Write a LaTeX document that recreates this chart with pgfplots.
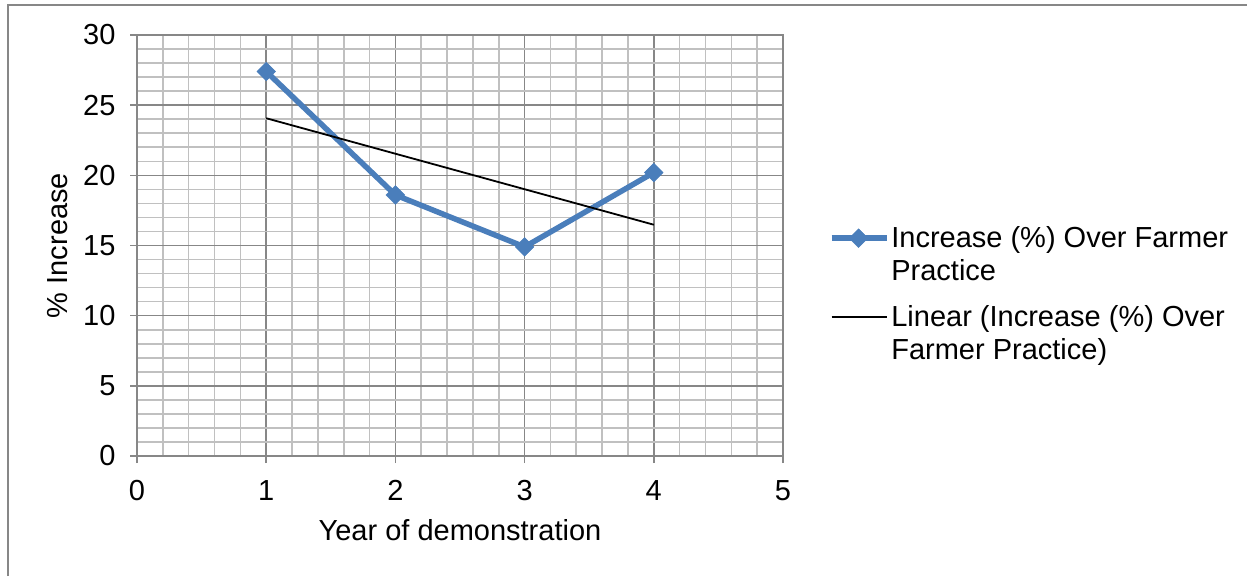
\documentclass[border=0pt]{standalone}
\usepackage{fontspec}
\setmainfont{Liberation Sans}
\usepackage{pgfplots}
\pgfplotsset{compat=1.18}

\definecolor{xlblue}{HTML}{4A7EBB}
\definecolor{majgrid}{HTML}{878787}
\definecolor{mingrid}{HTML}{C0C0C0}

\begin{document}
\begin{tikzpicture}
% page is 1255 x 576 px, 1 px = 1 pt
\path[use as bounding box] (0pt,0pt) rectangle (1255pt,576pt);
\draw[majgrid, line width=1.5pt] (8pt,0pt) -- (8pt,571pt) -- (1247pt,571pt);

\begin{axis}[
    at={(137pt,120pt)}, anchor=south west,
    scale only axis,
    width=646pt, height=421pt,
    xmin=0, xmax=5, ymin=0, ymax=30,
    xtick={0,1,2,3,4,5},
    ytick={0,5,10,15,20,25,30},
    minor x tick num=4,
    minor y tick num=4,
    grid=both,
    major grid style={majgrid, line width=1.6pt},
    minor grid style={mingrid, line width=1.6pt},
    axis line style={majgrid, line width=1.6pt},
    tick align=outside,
    major tick length=7pt,
    minor tick length=0pt,
    major tick style={majgrid, line width=1.6pt},
    xtick pos=bottom, ytick pos=left,
    tick label style={font=\fontsize{29}{34}\selectfont},
    /pgf/number format/assume math mode=true,
    xticklabel style={yshift=-14pt},
    yticklabel style={xshift=-11pt},
    xlabel={Year of demonstration},
    ylabel={\% Increase},
    label style={font=\fontsize{29}{34}\selectfont},
    xlabel style={at={(axis description cs:0.5,0)}, anchor=center, yshift=-74pt},
    ylabel style={at={(axis description cs:0,0.5)}, anchor=center, rotate=0, yshift=79pt},
    legend cell align=left,
    legend style={
        at={(1.066,0.385)}, anchor=west,
        draw=none, fill=none,
        font=\fontsize{29}{33}\selectfont,
        cells={align=left},
        row sep=19pt,
    },
    legend image code/.code={
        \draw[mark repeat=2, mark phase=2, yshift=16.5pt, #1]
            plot coordinates {(0pt,0pt) (27pt,0pt) (55pt,0pt)};
    },
]
\addplot[color=xlblue, line width=5.5pt, mark=square*,
    mark size=6.6pt, mark options={solid, rotate=45, line width=0.5pt, fill=xlblue, draw=xlblue}]
coordinates {
    (1, 27.4) (2, 18.6) (3, 14.9) (4, 20.2)
};
\addlegendentry{Increase (\%) Over Farmer\\Practice}

\addplot[color=black, line width=1.8pt, mark=none]
coordinates {
    (1, 24.07) (4, 16.48)
};
\addlegendentry{Linear (Increase (\%) Over\\Farmer Practice)}
\end{axis}
\end{tikzpicture}
\end{document}
